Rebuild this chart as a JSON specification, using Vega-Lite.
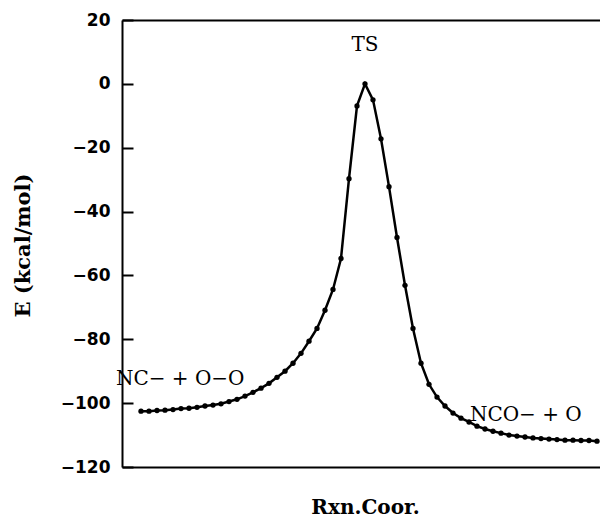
{
  "$schema": "https://vega.github.io/schema/vega-lite/v6.json",
  "autosize": {"type": "none"},
  "padding": {"left": 122, "top": 20, "right": 0, "bottom": 56},
  "width": 478,
  "height": 447,
  "background": "white",
  "view": {"stroke": null},
  "datasets": {
    "irc": [
      {"s": -28, "E": -102.5}, {"s": -27, "E": -102.5}, {"s": -26, "E": -102.3}, {"s": -25, "E": -102.2},
      {"s": -24, "E": -102.0}, {"s": -23, "E": -101.7}, {"s": -22, "E": -101.6}, {"s": -21, "E": -101.3},
      {"s": -20, "E": -100.9}, {"s": -19, "E": -100.6}, {"s": -18, "E": -100.2}, {"s": -17, "E": -99.5},
      {"s": -16, "E": -98.8}, {"s": -15, "E": -97.8}, {"s": -14, "E": -96.6}, {"s": -13, "E": -95.3},
      {"s": -12, "E": -93.8}, {"s": -11, "E": -91.9}, {"s": -10, "E": -90.0}, {"s": -9, "E": -87.5},
      {"s": -8, "E": -84.4}, {"s": -7, "E": -80.6}, {"s": -6, "E": -76.6}, {"s": -5, "E": -70.9},
      {"s": -4, "E": -64.4}, {"s": -3, "E": -54.7}, {"s": -2, "E": -29.7}, {"s": -1, "E": -6.9},
      {"s": 0, "E": 0.0},
      {"s": 1, "E": -5.0}, {"s": 2, "E": -17.2}, {"s": 3, "E": -32.2}, {"s": 4, "E": -48.1},
      {"s": 5, "E": -63.1}, {"s": 6, "E": -76.6}, {"s": 7, "E": -87.5}, {"s": 8, "E": -94.1},
      {"s": 9, "E": -98.1}, {"s": 10, "E": -100.9}, {"s": 11, "E": -103.1}, {"s": 12, "E": -104.7},
      {"s": 13, "E": -105.9}, {"s": 14, "E": -107.2}, {"s": 15, "E": -108.1}, {"s": 16, "E": -108.8},
      {"s": 17, "E": -109.4}, {"s": 18, "E": -110.0}, {"s": 19, "E": -110.3}, {"s": 20, "E": -110.6},
      {"s": 21, "E": -110.9}, {"s": 22, "E": -111.1}, {"s": 23, "E": -111.25}, {"s": 24, "E": -111.4},
      {"s": 25, "E": -111.6}, {"s": 26, "E": -111.6}, {"s": 27, "E": -111.7}, {"s": 28, "E": -111.7},
      {"s": 29, "E": -111.9}
    ],
    "labels": [
      {"s": 0, "E": 12.3, "label": "TS"},
      {"s": -23.1, "E": -92.3, "label": "NC−  + O−O"},
      {"s": 20.1, "E": -103.8, "label": "NCO−  + O"}
    ]
  },
  "layer": [
    {
      "data": {"name": "irc"},
      "mark": {"type": "line", "color": "black", "strokeWidth": 2.5},
      "encoding": {
        "x": {
          "field": "s", "type": "quantitative",
          "scale": {"domain": [-30.375, 29.375], "nice": false, "zero": false},
          "axis": {
            "orient": "bottom", "domain": true, "domainColor": "black", "domainWidth": 2,
            "ticks": false, "labels": false, "grid": false,
            "title": "Rxn.Coor.", "titleFont": "DejaVu Serif", "titleFontSize": 20, "titleFontWeight": "bold",
            "titleColor": "black", "titleBaseline": "middle", "titleX": 243, "titleY": 40
          }
        },
        "y": {
          "field": "E", "type": "quantitative",
          "scale": {"domain": [-120, 20], "nice": false, "zero": false},
          "axis": {
            "values": [-120, -100, -80, -60, -40, -20, 0, 20],
            "domain": true, "domainColor": "black", "domainWidth": 2,
            "ticks": true, "tickColor": "black", "tickWidth": 2, "tickSize": -11,
            "labelPadding": 23, "labelFlush": false, "labelBound": false,
            "labelFont": "DejaVu Sans", "labelFontSize": 17, "labelFontWeight": "bold", "labelColor": "black",
            "grid": false,
            "title": "E (kcal/mol)", "titleFont": "DejaVu Serif", "titleFontSize": 21, "titleFontWeight": "bold",
            "titleColor": "black", "titleBaseline": "middle", "titleX": -99, "titleY": 225, "titleAngle": -90
          }
        }
      }
    },
    {
      "data": {"name": "irc"},
      "mark": {"type": "circle", "color": "black", "opacity": 1, "size": 28},
      "encoding": {
        "x": {"field": "s", "type": "quantitative", "axis": null},
        "y": {"field": "E", "type": "quantitative"}
      }
    },
    {
      "data": {"name": "labels"},
      "mark": {"type": "text", "font": "DejaVu Serif", "fontSize": 20, "color": "black", "align": "center", "baseline": "middle"},
      "encoding": {
        "x": {"field": "s", "type": "quantitative",
          "axis": {"orient": "top", "domain": true, "domainColor": "black", "domainWidth": 2, "ticks": false, "labels": false, "grid": false, "title": null}},
        "y": {"field": "E", "type": "quantitative"},
        "text": {"field": "label"}
      }
    }
  ],
  "resolve": {"axis": {"x": "independent"}}
}
